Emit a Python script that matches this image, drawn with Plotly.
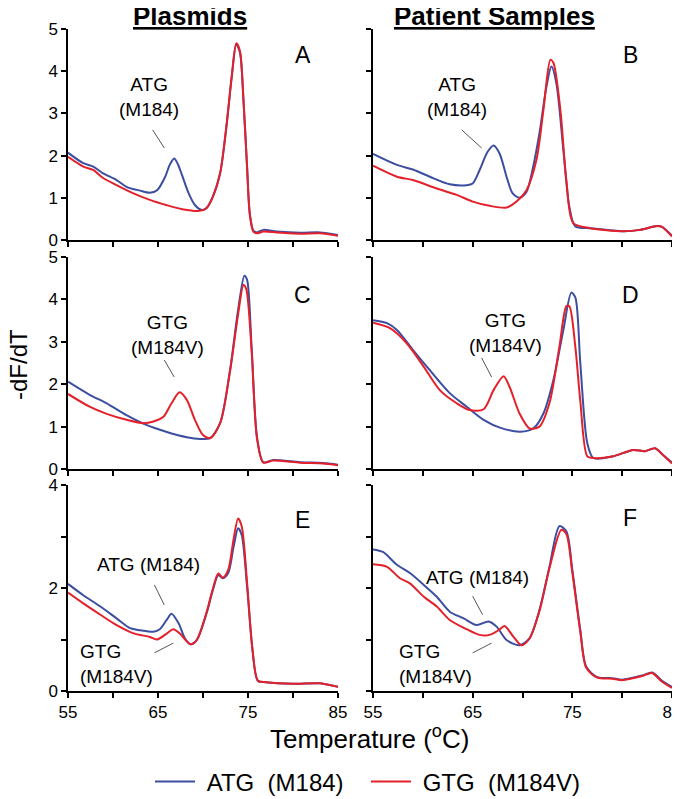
import plotly.graph_objects as go

# ---- data (temperature in oC, -dF/dT) ----
a_atg_x = [55, 56.7, 57.8, 58.9, 60.4, 61.5, 63.0, 64.1, 64.9, 65.8, 66.3, 66.8, 67.2, 67.6, 68.4, 69.1, 69.9, 70.4, 71.1, 71.9, 72.6, 73.2, 73.7, 74.1, 74.5, 74.9, 75.2, 75.6, 76.0, 76.7, 78.2, 80.8, 83.0, 85.0]
a_atg_y = [2.07, 1.82, 1.74, 1.58, 1.42, 1.26, 1.17, 1.12, 1.18, 1.50, 1.78, 1.93, 1.80, 1.58, 1.11, 0.83, 0.71, 0.76, 1.03, 1.58, 2.68, 3.87, 4.63, 4.45, 3.30, 1.73, 0.63, 0.22, 0.18, 0.24, 0.20, 0.17, 0.18, 0.12]
a_gtg_x = [55, 56.7, 57.8, 58.9, 60.4, 62.2, 64.1, 65.9, 67.7, 69.6, 70.4, 71.1, 71.9, 72.6, 73.2, 73.7, 74.1, 74.5, 74.9, 75.2, 75.6, 76.0, 76.7, 78.2, 80.8, 83.0, 85.0]
a_gtg_y = [1.97, 1.74, 1.66, 1.47, 1.30, 1.11, 0.95, 0.83, 0.73, 0.69, 0.76, 1.03, 1.58, 2.70, 3.90, 4.66, 4.48, 3.30, 1.70, 0.60, 0.20, 0.16, 0.20, 0.18, 0.15, 0.16, 0.10]

b_atg_x = [55, 57.4, 59.0, 60.7, 62.7, 64.4, 65.0, 65.7, 66.5, 67.1, 67.7, 68.4, 69.0, 69.7, 70.4, 71.0, 71.7, 72.4, 72.9, 73.4, 74.1, 74.7, 75.3, 76.8, 80.1, 81.8, 83.5, 84.0, 85.0]
b_atg_y = [2.04, 1.78, 1.67, 1.50, 1.32, 1.30, 1.34, 1.66, 2.09, 2.24, 2.05, 1.50, 1.11, 1.00, 1.14, 1.66, 2.53, 3.63, 4.11, 3.71, 2.13, 0.79, 0.32, 0.28, 0.21, 0.24, 0.33, 0.31, 0.10]
b_gtg_x = [55, 57.4, 59.0, 61.4, 63.4, 65.0, 66.7, 68.4, 69.4, 70.4, 71.4, 72.1, 72.8, 73.1, 73.8, 74.4, 75.1, 76.8, 80.1, 81.8, 83.5, 84.0, 85.0]
b_gtg_y = [1.76, 1.50, 1.42, 1.22, 1.07, 0.91, 0.81, 0.77, 0.91, 1.18, 1.90, 3.08, 4.27, 4.20, 3.08, 1.42, 0.40, 0.28, 0.21, 0.24, 0.33, 0.31, 0.08]

c_atg_x = [55, 57.4, 59.3, 61.5, 63.7, 65.9, 68.2, 69.7, 70.8, 71.9, 73.0, 73.9, 74.6, 74.9, 75.4, 76.0, 76.7, 77.8, 80.8, 83.3, 85]
c_atg_y = [2.06, 1.75, 1.55, 1.27, 1.04, 0.88, 0.75, 0.71, 0.73, 1.08, 2.33, 3.75, 4.56, 4.46, 2.88, 0.76, 0.16, 0.21, 0.16, 0.14, 0.10]
c_gtg_x = [55, 57.4, 59.3, 61.5, 63.4, 64.5, 65.6, 66.5, 67.4, 68.2, 69.1, 70.0, 70.8, 71.9, 73.0, 73.9, 74.5, 74.8, 75.4, 76.0, 76.7, 77.8, 80.8, 83.3, 85]
c_gtg_y = [1.77, 1.47, 1.30, 1.16, 1.08, 1.12, 1.23, 1.55, 1.81, 1.63, 1.16, 0.80, 0.73, 1.08, 2.30, 3.65, 4.34, 4.25, 2.80, 0.72, 0.15, 0.20, 0.15, 0.13, 0.09]

d_atg_x = [55, 56.4, 57.4, 59.0, 60.7, 62.7, 64.4, 66.1, 67.8, 69.8, 71.1, 72.1, 73.1, 74.1, 74.9, 75.3, 75.8, 76.5, 77.1, 79.1, 81.1, 82.3, 83.3, 84.1, 85]
d_atg_y = [3.51, 3.44, 3.28, 2.81, 2.33, 1.79, 1.47, 1.16, 0.97, 0.88, 0.96, 1.31, 2.10, 3.28, 4.16, 4.05, 2.50, 0.61, 0.26, 0.30, 0.45, 0.42, 0.49, 0.33, 0.15]
d_gtg_x = [55, 56.7, 58.4, 60.1, 61.7, 63.4, 64.7, 66.1, 67.1, 68.1, 68.7, 69.7, 70.7, 71.7, 72.7, 73.7, 74.4, 74.7, 75.3, 75.8, 76.5, 77.1, 79.1, 81.1, 82.3, 83.3, 84.1, 85]
d_gtg_y = [3.45, 3.32, 2.96, 2.41, 1.86, 1.55, 1.39, 1.41, 1.86, 2.19, 1.94, 1.31, 0.96, 1.00, 1.55, 2.88, 3.84, 3.84, 2.88, 1.60, 0.30, 0.26, 0.30, 0.45, 0.42, 0.49, 0.33, 0.13]

e_atg_x = [55, 56.7, 58.6, 60.4, 61.9, 63.0, 64.5, 65.2, 66.0, 66.5, 67.3, 68.0, 68.6, 69.3, 70.4, 71.1, 71.7, 72.2, 72.8, 73.4, 73.9, 74.3, 74.9, 75.5, 76.1, 77.0, 80.0, 83.0, 85]
e_atg_y = [2.08, 1.86, 1.64, 1.41, 1.22, 1.18, 1.15, 1.20, 1.39, 1.50, 1.31, 1.02, 0.91, 0.99, 1.51, 1.96, 2.25, 2.19, 2.29, 2.80, 3.16, 3.03, 2.02, 0.80, 0.20, 0.17, 0.14, 0.15, 0.08]
e_gtg_x = [55, 56.7, 58.6, 60.4, 62.3, 64.1, 64.9, 66.0, 66.7, 67.4, 68.6, 69.3, 70.4, 71.1, 71.7, 72.2, 72.8, 73.4, 73.9, 74.3, 74.9, 75.5, 76.1, 77.0, 80.0, 83.0, 85]
e_gtg_y = [1.91, 1.70, 1.48, 1.28, 1.12, 1.05, 1.00, 1.12, 1.20, 1.12, 0.91, 0.99, 1.53, 1.99, 2.28, 2.20, 2.35, 2.95, 3.35, 3.20, 2.10, 0.80, 0.20, 0.17, 0.14, 0.15, 0.08]

f_atg_x = [55, 56.0, 57.4, 58.7, 60.1, 61.4, 62.7, 64.1, 65.4, 66.6, 67.4, 68.4, 69.7, 70.7, 71.7, 72.7, 73.7, 74.4, 75.0, 75.8, 76.4, 77.5, 79.0, 80.0, 82.0, 83.0, 84.0, 85]
f_atg_y = [2.75, 2.70, 2.45, 2.29, 2.06, 1.83, 1.54, 1.41, 1.28, 1.35, 1.25, 0.99, 0.89, 1.02, 1.57, 2.41, 3.20, 3.10, 2.35, 1.18, 0.47, 0.27, 0.25, 0.22, 0.30, 0.36, 0.20, 0.08]
f_gtg_x = [55, 56.4, 57.7, 58.7, 60.1, 61.4, 62.7, 64.4, 65.7, 66.7, 67.6, 68.2, 69.1, 69.9, 70.7, 71.7, 72.7, 73.9, 74.4, 75.0, 75.8, 76.4, 77.5, 79.0, 80.0, 82.0, 83.0, 84.0, 85]
f_gtg_y = [2.46, 2.41, 2.19, 2.09, 1.83, 1.64, 1.38, 1.20, 1.09, 1.09, 1.18, 1.26, 1.05, 0.89, 1.02, 1.55, 2.38, 3.13, 3.05, 2.30, 1.15, 0.45, 0.26, 0.24, 0.21, 0.29, 0.35, 0.18, 0.06]

panels = [
    ("A", a_atg_x, a_atg_y, a_gtg_x, a_gtg_y),
    ("B", b_atg_x, b_atg_y, b_gtg_x, b_gtg_y),
    ("C", c_atg_x, c_atg_y, c_gtg_x, c_gtg_y),
    ("D", d_atg_x, d_atg_y, d_gtg_x, d_gtg_y),
    ("E", e_atg_x, e_atg_y, e_gtg_x, e_gtg_y),
    ("F", f_atg_x, f_atg_y, f_gtg_x, f_gtg_y),
]
y_max = [5, 5, 4]
x_ticks = [55, 60, 65, 70, 75, 80, 85]
x_ticktext = ["55", "", "65", "", "75", "", "85"]
series_names = ["\u00a0ATG\u00a0 (M184)", "\u00a0GTG\u00a0 (M184V)"]

# the page body has an 8px margin, so the figure is 8px smaller and everything
# measured on the reference is shifted back by 8px
OFF = 8
W, H = 680 - OFF, 799 - OFF
BLUE = "#3b4ea0"
RED = "#e4202a"
FONT = "Liberation Sans, Arial, sans-serif"


def fx(px):
    return (px - OFF) / W


def fy(py):
    return 1 - (py - OFF) / H


# pixel boxes of the panels in the reference
col_px = [(68, 338), (373, 672)]
row_px = [(29, 240), (257, 469), (485, 691)]

fig = go.Figure()
layout = {}
for i, (letter, bx, by, rx, ry) in enumerate(panels):
    r, c = divmod(i, 2)
    n = "" if i == 0 else str(i + 1)
    fig.add_trace(go.Scatter(x=bx, y=by, mode="lines", line=dict(color=BLUE, width=2, shape="spline", smoothing=0.8),
                             name=series_names[0], showlegend=(i == 0), xaxis="x" + n, yaxis="y" + n))
    fig.add_trace(go.Scatter(x=rx, y=ry, mode="lines", line=dict(color=RED, width=2, shape="spline", smoothing=0.8),
                             name=series_names[1], showlegend=(i == 0), xaxis="x" + n, yaxis="y" + n))
    x0, x1 = col_px[c]
    y0, y1 = row_px[r]
    ym = y_max[r]
    layout["xaxis" + n] = dict(
        domain=[fx(x0), fx(x1)], range=[55, 85], anchor="y" + n, automargin=False,
        tickvals=x_ticks, ticktext=x_ticktext if r == 2 else [" "] * 7, ticklabeloverflow="allow",
        ticks="outside", ticklen=5, tickwidth=1.5, tickcolor="black",
        showline=True, linecolor="black", linewidth=1.5, showgrid=False, zeroline=False,
        tickfont=dict(size=17, color="black"),
    )
    yt = list(range(ym + 1))
    ytext = [str(v) for v in yt] if ym == 5 else ["0", " ", "2", " ", "4"]
    layout["yaxis" + n] = dict(
        domain=[fy(y1), fy(y0)], range=[0, ym], anchor="x" + n, automargin=False,
        tickvals=yt, ticktext=ytext if c == 0 else [" "] * len(yt), ticklabeloverflow="allow",
        ticks="outside", ticklen=5, tickwidth=1.5, tickcolor="black",
        showline=True, linecolor="black", linewidth=1.5, showgrid=False, zeroline=False,
        tickfont=dict(size=17, color="black"),
    )

fig.update_layout(**layout)

# panel letters
letter_pos = [(81.1, 4.38), (80.8, 4.38), (81.1, 4.10), (80.8, 4.10), (81.1, 3.32), (80.8, 3.36)]
for i, (lx, ly) in enumerate(letter_pos):
    n = "" if i == 0 else str(i + 1)
    fig.add_annotation(text=panels[i][0], x=lx, y=ly, xref="x" + n, yref="y" + n, showarrow=False,
                       xanchor="center", yanchor="middle", font=dict(size=23, color="black"))

# peak labels with thin pointer lines
labels = [
    ("ATG<br>(M184)", 64.0, 3.39, "center", ""),
    ("ATG<br>(M184)", 63.4, 3.39, "center", "2"),
    ("GTG<br>(M184V)", 66.1, 3.16, "center", "3"),
    ("GTG<br>(M184V)", 68.3, 3.20, "center", "4"),
    ("ATG (M184)", 63.9, 2.45, "center", "5"),
    ("GTG<br>(M184V)", 56.1, 0.52, "left", "5"),
    ("ATG (M184)", 65.5, 2.21, "center", "6"),
    ("GTG<br>(M184V)", 57.4, 0.52, "left", "6"),
]
for txt, lx, ly, anc, n in labels:
    fig.add_annotation(text=txt, x=lx, y=ly, xref="x" + n, yref="y" + n, showarrow=False,
                       xanchor=anc, yanchor="middle", align=anc, font=dict(size=19, color="black"))

pointers = [
    ("", 64.4, 2.61, 65.7, 2.18),
    ("2", 63.9, 2.61, 65.9, 2.18),
    ("3", 65.7, 2.57, 66.8, 2.17),
    ("4", 65.9, 2.62, 66.9, 2.17),
    ("5", 64.6, 2.06, 65.7, 1.67),
    ("5", 64.6, 0.74, 66.7, 0.93),
    ("6", 65.0, 1.84, 66.0, 1.48),
    ("6", 65.0, 0.74, 66.9, 0.93),
]
for n, px0, py0, px1, py1 in pointers:
    fig.add_shape(type="line", x0=px0, y0=py0, x1=px1, y1=py1, xref="x" + n, yref="y" + n,
                  line=dict(color="#555555", width=1))

# column titles and axis titles
fig.add_annotation(text="<b><u>Plasmids</u></b>", x=fx(190), y=fy(16), xref="paper", yref="paper",
                   xanchor="center", yanchor="middle", showarrow=False, font=dict(size=26, color="black"))
fig.add_annotation(text="<b><u>Patient Samples</u></b>", x=fx(494), y=fy(16), xref="paper", yref="paper",
                   xanchor="center", yanchor="middle", showarrow=False, font=dict(size=26, color="black"))
fig.add_annotation(text="-dF/dT", x=fx(18), y=fy(365), xref="paper", yref="paper", textangle=-90,
                   xanchor="center", yanchor="middle", showarrow=False, font=dict(size=24, color="black"))
fig.add_annotation(text="Temperature (<sup>o</sup>C)", x=fx(369), y=fy(737), xref="paper", yref="paper",
                   xanchor="center", yanchor="middle", showarrow=False, font=dict(size=26, color="black"))

fig.update_layout(
    width=W, height=H,
    margin=dict(l=0, r=0, t=0, b=0, pad=0, autoexpand=False),
    paper_bgcolor="white", plot_bgcolor="white",
    font=dict(family=FONT, color="black"),
    showlegend=True,
    legend=dict(orientation="h", x=fx(150), xanchor="left", y=fy(782), yanchor="middle",
                font=dict(size=24, color="black"), itemwidth=40, entrywidth=161,
                bgcolor="rgba(0,0,0,0)"),
)

fig.write_html("out.html")
